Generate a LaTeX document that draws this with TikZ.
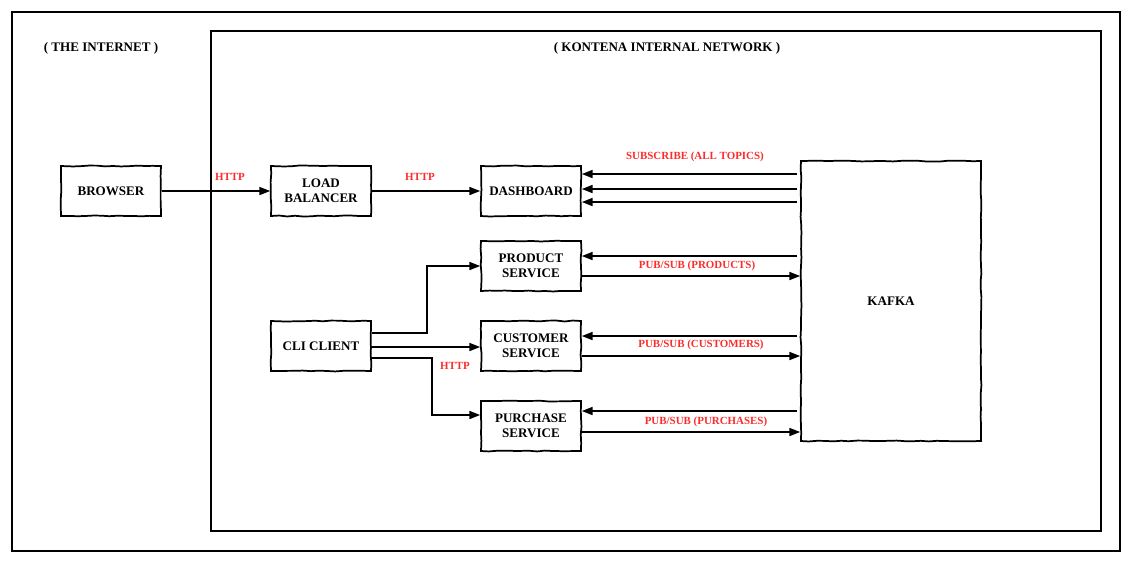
\documentclass[tikz,border=0pt]{standalone}
\usepackage{fontspec}
\setmainfont{Liberation Serif}
\usetikzlibrary{arrows.meta,decorations.pathmorphing}
\definecolor{labelRed}{RGB}{250,45,45}
\begin{document}
\pgfmathsetseed{7}
\begin{tikzpicture}
[x=0.75pt,y=-0.75pt,
  frameLine/.style={draw,line width=1.1pt},%
  boxDecorate/.style={shape=rectangle,draw,line width=1.3pt,minimum width=75pt,minimum height=37.5pt,
    inner sep=1pt,align=center,font=\fontsize{9.8}{11.5}\selectfont\bfseries,
    decorate,decoration={random steps,segment length=6pt,amplitude=0.35pt}},%
  arrowLine/.style={-{Triangle[length=8pt,width=6pt]},line width=1.1pt},%
  plainLine/.style={-,line width=1.1pt},%
  areaText/.style={font=\fontsize{9.8}{11.5}\selectfont\bfseries},%
  labelText/.style={text=labelRed,font=\fontsize{8.2}{9.5}\selectfont\bfseries}]
\useasboundingbox (0,0) rectangle (1132,562);
%% network areas
\draw[frameLine] (12,12) rectangle (1120,551);
\draw[frameLine] (211,31) rectangle (1101,531);
\node (internet) at (101,48) [areaText] {( THE INTERNET )};
\node (kontena) at (667,48) [areaText] {( KONTENA INTERNAL NETWORK )};
%% boxes
\foreach \nodename/\x/\y/\txt in {browser/111/191/BROWSER, balancer/321/191/LOAD\\BALANCER,
  dashboard/531/191/DASHBOARD, product/531/266/PRODUCT\\SERVICE, customer/531/346/CUSTOMER\\SERVICE,
  purchase/531/426/PURCHASE\\SERVICE, cli/321/346/CLI CLIENT}
{
  \node (\nodename) at (\x,\y) [boxDecorate] {\txt};
}
\node (kafka) at (891,301) [boxDecorate,minimum width=135pt,minimum height=210pt] {KAFKA};
%% http
\draw[arrowLine] (browser) -- (balancer);
\draw[arrowLine] (balancer) -- (dashboard);
\node (http1) at (230,177) [labelText] {HTTP};
\node (http2) at (420,177) [labelText] {HTTP};
\draw[plainLine] (cli.east |- 0,333) -- (427,333) -- (427,266) [arrowLine] -- (product.west);
\draw[arrowLine] (cli.east |- 0,347) -- (customer.west |- 0,347);
\draw[arrowLine] (cli.east |- 0,358) -- (432,358) -- (432,415) -- (purchase.west |- 0,415);
\node (http3) at (455,366) [labelText] {HTTP};
%% kafka topics
\foreach \y in {174,189,202}
{
  \draw[arrowLine] ([xshift=-2pt]kafka.west |- 0,\y) -- (dashboard.east |- 0,\y);
}
\node (subscribe) at (695,157) [labelText] {SUBSCRIBE (ALL TOPICS)};
\foreach \nodename/\yin/\yout in {product/256/276, customer/336/356, purchase/411/432}
{
  \draw[arrowLine] ([xshift=-2pt]kafka.west |- 0,\yin) -- (\nodename.east |- 0,\yin);
  \draw[arrowLine] (\nodename.east |- 0,\yout) -- (kafka.west |- 0,\yout);
}
\node (pubProducts) at (697,266) [labelText] {PUB/SUB (PRODUCTS)};
\node (pubCustomers) at (701,345) [labelText] {PUB/SUB (CUSTOMERS)};
\node (pubPurchases) at (706,422) [labelText] {PUB/SUB (PURCHASES)};
\end{tikzpicture}
\end{document}
